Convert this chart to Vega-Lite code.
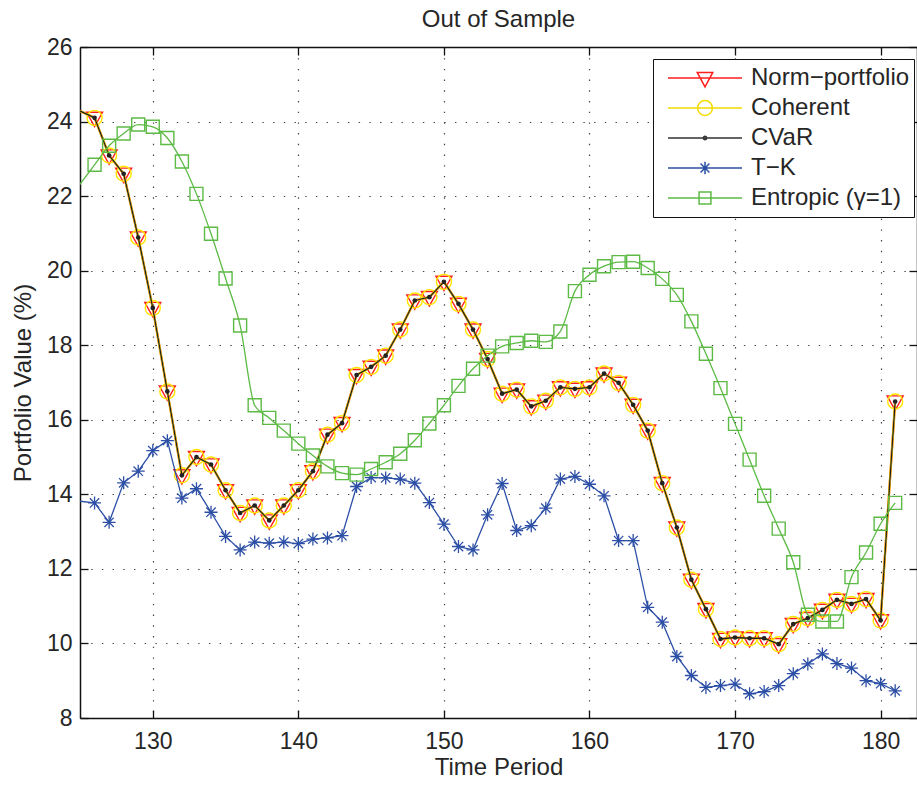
{
  "$schema": "https://vega.github.io/schema/vega-lite/v6.json",
  "width": 837,
  "height": 671,
  "autosize": {"type": "none"},
  "padding": {"left": 80, "top": 47, "right": 0, "bottom": 67},
  "background": "white",
  "title": {
    "text": "Out of Sample",
    "font": "Liberation Sans",
    "fontSize": 24,
    "fontWeight": "normal",
    "color": "#262626",
    "anchor": "middle",
    "frame": "group",
    "baseline": "alphabetic",
    "offset": -15
  },
  "config": {
    "view": {"stroke": null},
    "font": "Liberation Sans",
    "axis": {
      "domainColor": "#111",
      "domainWidth": 1.5,
      "tickColor": "#111",
      "tickWidth": 1.3,
      "tickSize": -8,
      "labelFont": "Liberation Sans",
      "labelFontSize": 23,
      "labelColor": "#262626",
      "labelOverlap": false,
      "labelFlush": false,
      "titleFont": "Liberation Sans",
      "titleFontSize": 24,
      "titleFontWeight": "normal",
      "titleColor": "#262626",
      "gridColor": "#222",
      "gridDash": [1.4, 9.3],
      "gridWidth": 1.2,
      "gridOpacity": 0.85
    }
  },
  "datasets": {
    "periods": [
      {"t": 124, "norm": 24.47, "coherent": 24.47, "cvar": 24.47, "tk": 13.86, "entropic": 21.8},
      {"t": 126, "norm": 24.10, "coherent": 24.10, "cvar": 24.10, "tk": 13.77, "entropic": 22.84},
      {"t": 127, "norm": 23.09, "coherent": 23.09, "cvar": 23.09, "tk": 13.25, "entropic": 23.35},
      {"t": 128, "norm": 22.60, "coherent": 22.60, "cvar": 22.60, "tk": 14.31, "entropic": 23.68},
      {"t": 129, "norm": 20.89, "coherent": 20.89, "cvar": 20.89, "tk": 14.62, "entropic": 23.92},
      {"t": 130, "norm": 19.00, "coherent": 19.00, "cvar": 19.00, "tk": 15.17, "entropic": 23.86},
      {"t": 131, "norm": 16.76, "coherent": 16.76, "cvar": 16.76, "tk": 15.44, "entropic": 23.56},
      {"t": 132, "norm": 14.51, "coherent": 14.51, "cvar": 14.51, "tk": 13.90, "entropic": 22.93},
      {"t": 133, "norm": 15.00, "coherent": 15.00, "cvar": 15.00, "tk": 14.15, "entropic": 22.06},
      {"t": 134, "norm": 14.80, "coherent": 14.80, "cvar": 14.80, "tk": 13.52, "entropic": 20.99},
      {"t": 135, "norm": 14.11, "coherent": 14.11, "cvar": 14.11, "tk": 12.87, "entropic": 19.79},
      {"t": 136, "norm": 13.50, "coherent": 13.50, "cvar": 13.50, "tk": 12.51, "entropic": 18.53},
      {"t": 137, "norm": 13.70, "coherent": 13.70, "cvar": 13.70, "tk": 12.72, "entropic": 16.39},
      {"t": 138, "norm": 13.30, "coherent": 13.30, "cvar": 13.30, "tk": 12.69, "entropic": 16.05},
      {"t": 139, "norm": 13.70, "coherent": 13.70, "cvar": 13.70, "tk": 12.72, "entropic": 15.71},
      {"t": 140, "norm": 14.11, "coherent": 14.11, "cvar": 14.11, "tk": 12.68, "entropic": 15.36},
      {"t": 141, "norm": 14.62, "coherent": 14.62, "cvar": 14.62, "tk": 12.80, "entropic": 15.04},
      {"t": 142, "norm": 15.60, "coherent": 15.60, "cvar": 15.60, "tk": 12.83, "entropic": 14.75},
      {"t": 143, "norm": 15.91, "coherent": 15.91, "cvar": 15.91, "tk": 12.89, "entropic": 14.57},
      {"t": 144, "norm": 17.20, "coherent": 17.20, "cvar": 17.20, "tk": 14.21, "entropic": 14.53},
      {"t": 145, "norm": 17.42, "coherent": 17.42, "cvar": 17.42, "tk": 14.45, "entropic": 14.68},
      {"t": 146, "norm": 17.72, "coherent": 17.72, "cvar": 17.72, "tk": 14.44, "entropic": 14.86},
      {"t": 147, "norm": 18.42, "coherent": 18.42, "cvar": 18.42, "tk": 14.41, "entropic": 15.09},
      {"t": 148, "norm": 19.20, "coherent": 19.20, "cvar": 19.20, "tk": 14.30, "entropic": 15.45},
      {"t": 149, "norm": 19.29, "coherent": 19.29, "cvar": 19.29, "tk": 13.78, "entropic": 15.90},
      {"t": 150, "norm": 19.70, "coherent": 19.70, "cvar": 19.70, "tk": 13.20, "entropic": 16.39},
      {"t": 151, "norm": 19.11, "coherent": 19.11, "cvar": 19.11, "tk": 12.60, "entropic": 16.91},
      {"t": 152, "norm": 18.42, "coherent": 18.42, "cvar": 18.42, "tk": 12.51, "entropic": 17.37},
      {"t": 153, "norm": 17.63, "coherent": 17.63, "cvar": 17.63, "tk": 13.45, "entropic": 17.72},
      {"t": 154, "norm": 16.70, "coherent": 16.70, "cvar": 16.70, "tk": 14.29, "entropic": 17.97},
      {"t": 155, "norm": 16.81, "coherent": 16.81, "cvar": 16.81, "tk": 13.03, "entropic": 18.06},
      {"t": 156, "norm": 16.36, "coherent": 16.36, "cvar": 16.36, "tk": 13.16, "entropic": 18.12},
      {"t": 157, "norm": 16.51, "coherent": 16.51, "cvar": 16.51, "tk": 13.63, "entropic": 18.09},
      {"t": 158, "norm": 16.87, "coherent": 16.87, "cvar": 16.87, "tk": 14.41, "entropic": 18.37},
      {"t": 159, "norm": 16.83, "coherent": 16.83, "cvar": 16.83, "tk": 14.48, "entropic": 19.45},
      {"t": 160, "norm": 16.87, "coherent": 16.87, "cvar": 16.87, "tk": 14.27, "entropic": 19.89},
      {"t": 161, "norm": 17.24, "coherent": 17.24, "cvar": 17.24, "tk": 13.96, "entropic": 20.12},
      {"t": 162, "norm": 16.99, "coherent": 16.99, "cvar": 16.99, "tk": 12.76, "entropic": 20.23},
      {"t": 163, "norm": 16.40, "coherent": 16.40, "cvar": 16.40, "tk": 12.76, "entropic": 20.24},
      {"t": 164, "norm": 15.71, "coherent": 15.71, "cvar": 15.71, "tk": 10.97, "entropic": 20.07},
      {"t": 165, "norm": 14.30, "coherent": 14.30, "cvar": 14.30, "tk": 10.57, "entropic": 19.78},
      {"t": 166, "norm": 13.11, "coherent": 13.11, "cvar": 13.11, "tk": 9.65, "entropic": 19.35},
      {"t": 167, "norm": 11.71, "coherent": 11.71, "cvar": 11.71, "tk": 9.14, "entropic": 18.64},
      {"t": 168, "norm": 10.92, "coherent": 10.92, "cvar": 10.92, "tk": 8.82, "entropic": 17.77},
      {"t": 169, "norm": 10.12, "coherent": 10.12, "cvar": 10.12, "tk": 8.87, "entropic": 16.85},
      {"t": 170, "norm": 10.16, "coherent": 10.16, "cvar": 10.16, "tk": 8.91, "entropic": 15.89},
      {"t": 171, "norm": 10.14, "coherent": 10.14, "cvar": 10.14, "tk": 8.65, "entropic": 14.93},
      {"t": 172, "norm": 10.14, "coherent": 10.14, "cvar": 10.14, "tk": 8.71, "entropic": 13.96},
      {"t": 173, "norm": 9.98, "coherent": 9.98, "cvar": 9.98, "tk": 8.87, "entropic": 13.08},
      {"t": 174, "norm": 10.52, "coherent": 10.52, "cvar": 10.52, "tk": 9.19, "entropic": 12.18},
      {"t": 175, "norm": 10.68, "coherent": 10.68, "cvar": 10.68, "tk": 9.45, "entropic": 10.77},
      {"t": 176, "norm": 10.90, "coherent": 10.90, "cvar": 10.90, "tk": 9.72, "entropic": 10.59},
      {"t": 177, "norm": 11.17, "coherent": 11.17, "cvar": 11.17, "tk": 9.46, "entropic": 10.59},
      {"t": 178, "norm": 11.06, "coherent": 11.06, "cvar": 11.06, "tk": 9.34, "entropic": 11.78},
      {"t": 179, "norm": 11.19, "coherent": 11.19, "cvar": 11.19, "tk": 9.00, "entropic": 12.44},
      {"t": 180, "norm": 10.62, "coherent": 10.62, "cvar": 10.62, "tk": 8.92, "entropic": 13.21},
      {"t": 181, "norm": 16.49, "coherent": 16.49, "cvar": 16.49, "tk": 8.73, "entropic": 13.77}
    ],
    "series": [
      {"name": "Norm−portfolio"},
      {"name": "Coherent"},
      {"name": "CVaR"},
      {"name": "T−K"},
      {"name": "Entropic (γ=1)"}
    ]
  },
  "data": {"name": "periods"},
  "encoding": {
    "x": {"field": "t", "type": "quantitative", "scale": {"domain": [125, 182.5], "nice": false, "zero": false}, "axis": null}
  },
  "layer": [
    {
      "mark": {"type": "line", "color": "#ff1f1f", "strokeWidth": 2.2, "clip": true},
      "encoding": {
        "x": {"field": "t", "type": "quantitative", "scale": {"domain": [125, 182.5], "nice": false, "zero": false},
          "axis": {"orient": "bottom", "values": [130, 140, 150, 160, 170, 180], "format": "d", "grid": true, "title": "Time Period", "labelPadding": 20, "titlePadding": 2}},
        "y": {"field": "norm", "type": "quantitative", "scale": {"domain": [8, 26], "nice": false, "zero": false},
          "axis": {"orient": "left", "values": [8, 10, 12, 14, 16, 18, 20, 22, 24, 26], "format": "d", "grid": true, "title": "Portfolio Value (%)", "labelPadding": 16, "titlePadding": 11}}
      }
    },
    {
      "mark": {"type": "point", "shape": "M-1,-0.7H1L0,1.1Z", "size": 256, "filled": false, "color": "#ff1f1f", "strokeWidth": 1.4, "opacity": 1, "clip": true},
      "encoding": {
        "x": {"field": "t", "type": "quantitative", "scale": {"domain": [125, 182.5], "nice": false, "zero": false},
          "axis": {"orient": "top", "values": [130, 140, 150, 160, 170, 180], "labels": false, "grid": false, "title": null}},
        "y": {"field": "norm", "type": "quantitative", "scale": {"domain": [8, 26], "nice": false, "zero": false},
          "axis": {"orient": "right", "values": [8, 10, 12, 14, 16, 18, 20, 22, 24, 26], "labels": false, "grid": false, "title": null}}
      }
    },
    {
      "mark": {"type": "line", "color": "#ffe600", "strokeWidth": 2.2, "clip": true},
      "encoding": {"y": {"field": "coherent", "type": "quantitative", "scale": {"domain": [8, 26], "nice": false, "zero": false}, "axis": null}}
    },
    {
      "mark": {"type": "point", "shape": "circle", "size": 225, "filled": false, "color": "#ffe600", "strokeWidth": 1.4, "opacity": 1, "clip": true},
      "encoding": {"y": {"field": "coherent", "type": "quantitative", "scale": {"domain": [8, 26], "nice": false, "zero": false}, "axis": null}}
    },
    {
      "mark": {"type": "line", "color": "#222222", "strokeWidth": 1.3, "clip": true},
      "encoding": {"y": {"field": "cvar", "type": "quantitative", "scale": {"domain": [8, 26], "nice": false, "zero": false}, "axis": null}}
    },
    {
      "mark": {"type": "point", "shape": "circle", "size": 22, "filled": true, "color": "#222222", "opacity": 1, "clip": true},
      "encoding": {"y": {"field": "cvar", "type": "quantitative", "scale": {"domain": [8, 26], "nice": false, "zero": false}, "axis": null}}
    },
    {
      "mark": {"type": "line", "color": "#2c4fa6", "strokeWidth": 1.3, "clip": true},
      "encoding": {"y": {"field": "tk", "type": "quantitative", "scale": {"domain": [8, 26], "nice": false, "zero": false}, "axis": null}}
    },
    {
      "mark": {"type": "point", "shape": "M-1,0H1M0,-1V1M-0.72,-0.72L0.72,0.72M-0.72,0.72L0.72,-0.72", "size": 169, "filled": false, "color": "#2c4fa6", "strokeWidth": 1.3, "opacity": 1, "clip": true},
      "encoding": {"y": {"field": "tk", "type": "quantitative", "scale": {"domain": [8, 26], "nice": false, "zero": false}, "axis": null}}
    },
    {
      "mark": {"type": "line", "color": "#5cba45", "strokeWidth": 1.3, "interpolate": "monotone", "clip": true},
      "encoding": {"y": {"field": "entropic", "type": "quantitative", "scale": {"domain": [8, 26], "nice": false, "zero": false}, "axis": null}}
    },
    {
      "mark": {"type": "point", "shape": "square", "size": 169, "filled": false, "color": "#5cba45", "strokeWidth": 1.4, "opacity": 1, "clip": true},
      "encoding": {"y": {"field": "entropic", "type": "quantitative", "scale": {"domain": [8, 26], "nice": false, "zero": false}, "axis": null}}
    },
    {
      "data": {"name": "series"},
      "transform": [{"filter": "false"}],
      "mark": {"type": "point", "filled": false, "strokeWidth": 1.5, "opacity": 1},
      "encoding": {
        "x": {"field": "name", "type": "nominal", "axis": null},
        "color": {
          "field": "name", "type": "nominal",
          "scale": {"domain": ["Norm−portfolio", "Coherent", "CVaR", "T−K", "Entropic (γ=1)"], "range": ["#ff1f1f", "#f2dc00", "#333333", "#2c4fa6", "#5cba45"]},
          "legend": {"title": null, "orient": "none", "legendX": 573, "legendY": 12, "direction": "vertical", "symbolSize": 5476, "symbolStrokeWidth": 1.5, "clipHeight": 30, "rowPadding": 0, "padding": 4, "symbolOffset": 10, "labelOffset": 8, "labelFont": "Liberation Sans", "labelFontSize": 24, "labelColor": "#262626", "labelLimit": 400, "strokeColor": "#111", "fillColor": "#ffffff", "cornerRadius": 0}
        },
        "shape": {
          "field": "name", "type": "nominal",
          "scale": {"domain": ["Norm−portfolio", "Coherent", "CVaR", "T−K", "Entropic (γ=1)"], "range": [
            "M-1,0H1M-0.21,-0.15H0.21L0,0.24Z",
            "M-1,0H1M0.2,0A0.2,0.2 0 1,1 -0.2,0A0.2,0.2 0 1,1 0.2,0",
            "M-1,0H1M0.045,0A0.045,0.045 0 1,1 -0.045,0A0.045,0.045 0 1,1 0.045,0",
            "M-1,0H1M-0.17,0H0.17M0,-0.17V0.17M-0.12,-0.12L0.12,0.12M-0.12,0.12L0.12,-0.12",
            "M-1,0H1M-0.16,-0.16H0.16V0.16H-0.16Z"
          ]},
          "legend": {"title": null, "orient": "none", "legendX": 573, "legendY": 12, "direction": "vertical", "symbolSize": 5476, "symbolStrokeWidth": 1.5, "clipHeight": 30, "rowPadding": 0, "padding": 4, "symbolOffset": 10, "labelOffset": 8, "labelFont": "Liberation Sans", "labelFontSize": 24, "labelColor": "#262626", "labelLimit": 400, "strokeColor": "#111", "fillColor": "#ffffff", "cornerRadius": 0}
        }
      }
    }
  ],
  "resolve": {"axis": {"x": "independent", "y": "independent"}}
}
